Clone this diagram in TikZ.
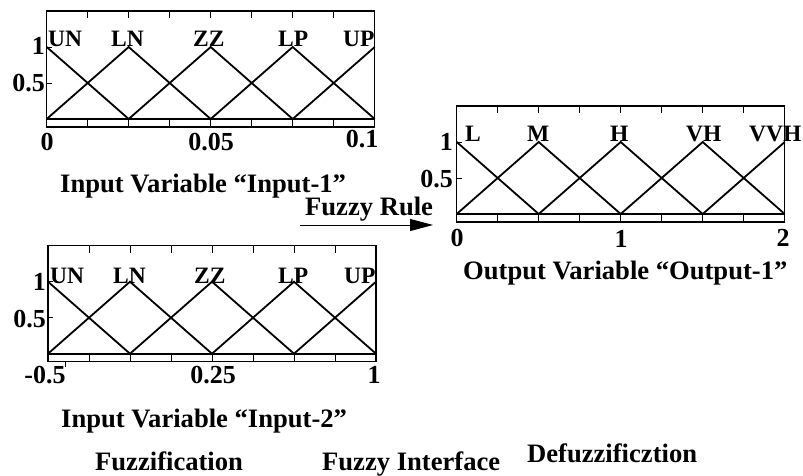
\documentclass[tikz,border=0pt]{standalone}
\usepackage{fontspec}
\setmainfont{Liberation Serif}
\usetikzlibrary{arrows.meta}
\tikzset{
  mflab/.style={font=\fontsize{23.5}{23.5}\selectfont\bfseries, inner sep=0pt, anchor=base west},
  xlab/.style={font=\fontsize{26}{26}\selectfont\bfseries, inner sep=0pt, anchor=base},
  ylab/.style={font=\fontsize{26}{26}\selectfont\bfseries, inner sep=0pt, anchor=base east},
  ttl/.style={font=\fontsize{26.6}{26.6}\selectfont\bfseries, inner sep=0pt, anchor=base west},
  frameline/.style={line width=1.1pt},
  zeroline/.style={line width=2.2pt},
  mfline/.style={line width=1.8pt, line join=miter},
  tickline/.style={line width=0.9pt},
  arrowline/.style={line width=1pt, -{Triangle[length=23pt,width=12pt]}}
}
\newcommand{\mfgrid}{%
  \draw[frameline] (0,0) rectangle (328,116);
  \foreach \k in {1,...,7} {
    \draw[tickline] (41*\k,0) -- (41*\k,7);
    \draw[tickline] (41*\k,108) -- (41*\k,116);
  }
  \draw[tickline] (0,36) -- (5,36);
  \draw[tickline] (0,72) -- (5,72);
  \draw[zeroline] (0,108) -- (328,108);
  \draw[mfline] (0,36) -- (82,108) -- (164,36) -- (246,108) -- (328,36);
  \draw[mfline] (0,108) -- (82,36) -- (164,108) -- (246,36) -- (328,108);
}
\begin{document}
\begin{tikzpicture}[x=1pt,y=-1pt]
\useasboundingbox (0,0) rectangle (803,476);
\fill[white] (0,0) rectangle (803,476);

% Plot 1: Input-1
\begin{scope}[shift={(46.7,11)}]
  \mfgrid
\end{scope}
\node[mflab] (a1) at (48,47) {UN};
\node[mflab] (a2) at (111,47) {LN};
\node[mflab] (a3) at (193,47) {ZZ};
\node[mflab] (a4) at (278,47) {LP};
\node[mflab] (a5) at (343,47) {UP};
\node[ylab] (ay1) at (45,55) {1};
\node[ylab] (ay2) at (45,92) {0.5};
\node[xlab] (ax1) at (47,150) {0};
\node[xlab] (ax2) at (211,150) {0.05};
\node[xlab] (ax3) at (362,147) {0.1};
\node[ttl] (at) at (60,192) {Input Variable “Input-1”};

% Plot 2: Input-2
\begin{scope}[shift={(48,245.7)}]
  \mfgrid
  \draw[tickline] (17,116) -- (17,121);
\end{scope}
\node[mflab] (b1) at (50,283) {UN};
\node[mflab] (b2) at (113,283) {LN};
\node[mflab] (b3) at (194,283) {ZZ};
\node[mflab] (b4) at (278,283) {LP};
\node[mflab] (b5) at (344,283) {UP};
\node[ylab] (by1) at (46,290) {1};
\node[ylab] (by2) at (46,327) {0.5};
\node[xlab] (bx1) at (45,383) {-0.5};
\node[xlab] (bx2) at (213,383) {0.25};
\node[xlab] (bx3) at (374,383) {1};
\node[ttl] (bt) at (61,427) {Input Variable “Input-2”};

% Plot 3: Output-1
\begin{scope}[shift={(456.7,106)}]
  \mfgrid
\end{scope}
\node[mflab] (c1) at (465,142) {L};
\node[mflab] (c2) at (527,142) {M};
\node[mflab] (c3) at (610,142) {H};
\node[mflab] (c4) at (686,142) {VH};
\node[mflab] (c5) at (749,142) {VVH};
\node[ylab] (cy1) at (453,150) {1};
\node[ylab] (cy2) at (453,187) {0.5};
\node[xlab] (cx1) at (457,246) {0};
\node[xlab] (cx2) at (621,247) {1};
\node[xlab] (cx3) at (783,246) {2};
\node[ttl] (ct) at (463,279) {Output Variable “Output-1”};

% Fuzzy rule arrow
\node[ttl] (rule) at (305,215) {Fuzzy Rule};
\coordinate (arrS) at (300,225);
\coordinate (arrE) at (433,225);
\draw[arrowline] (arrS) -- (arrE);

% Bottom captions
\node[ttl] (f1) at (95,470) {Fuzzification};
\node[ttl] (f2) at (322,470) {Fuzzy Interface};
\node[ttl] (f3) at (527,462) {Defuzzificztion};
\end{tikzpicture}
\end{document}
